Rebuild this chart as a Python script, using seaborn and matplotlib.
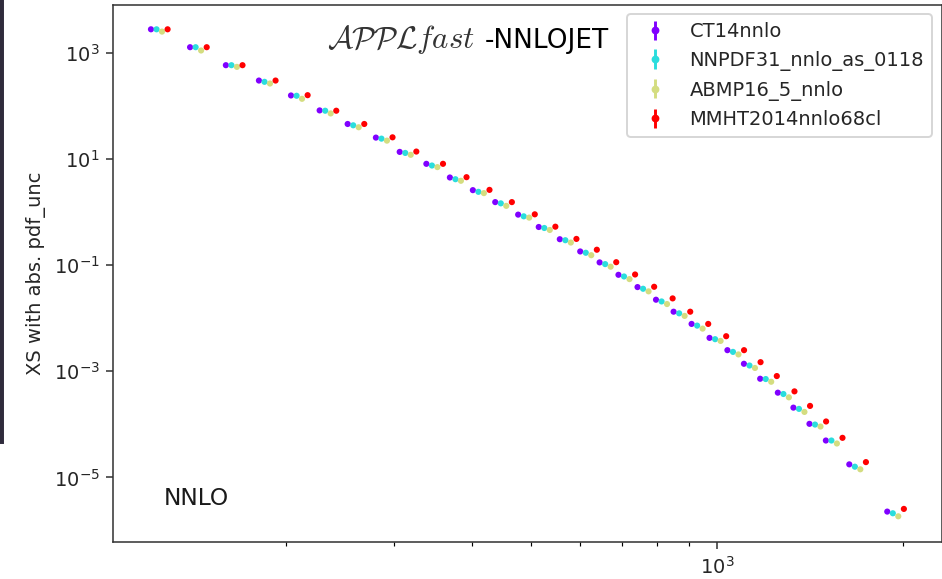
#Import needed packages
import numpy as np
import pandas as pd
import seaborn as sns
import matplotlib.pyplot as plt
from matplotlib.lines import Line2D
from matplotlib.patches import Rectangle
from matplotlib.ticker import FixedLocator, NullLocator

#Data (jet pT bins and cross sections per PDF set)
pdf_sets = ["CT14nnlo", "NNPDF31_nnlo_as_0118", "ABMP16_5_nnlo", "MMHT2014nnlo68cl"]
pt_bins = [121, 140, 160, 181, 204, 227, 252, 280, 306, 338, 369, 402, 437, 476, 514,
           556, 600, 645, 692, 743, 796, 850, 909, 972, 1039, 1105, 1174, 1254, 1329,
           1411, 1500, 1637, 1886]
x_shift = [1.0, 1.021, 1.042, 1.064]

xs_ct14 = [2750, 1265, 580, 298, 156, 81.6, 45.3, 25.1, 13.5, 8.05, 4.45, 2.57, 1.53,
           0.889, 0.520, 0.306, 0.180, 0.112, 0.0654, 0.0384, 0.0222, 0.0132, 0.00777,
           0.00424, 0.00249, 0.00138, 0.000721, 0.000394, 0.000206, 0.000102, 4.95e-5,
           1.76e-5, 2.27e-6]
xs_nnpdf = [2750, 1265, 580, 282, 154, 80.5, 42.8, 24.0, 12.9, 7.48, 4.13, 2.39, 1.45,
            0.826, 0.498, 0.293, 0.170, 0.104, 0.0608, 0.0357, 0.0206, 0.0123, 0.00722,
            0.00401, 0.00231, 0.00128, 0.000712, 0.000372, 0.000195, 9.89e-5, 4.95e-5,
            1.59e-5, 2.11e-6]
xs_abmp = [2489, 1097, 539, 262, 135, 71.6, 39.3, 22.0, 11.9, 6.98, 3.86, 2.26, 1.30,
           0.781, 0.457, 0.265, 0.153, 0.0930, 0.0543, 0.0319, 0.0184, 0.0110, 0.00634,
           0.00372, 0.00207, 0.00115, 0.000633, 0.000322, 0.000171, 9.08e-5, 4.35e-5,
           1.42e-5, 1.85e-6]
xs_mmht = [2750, 1265, 580, 298, 158, 80.5, 45.3, 25.4, 13.7, 8.05, 4.51, 2.60, 1.53,
           0.901, 0.527, 0.310, 0.194, 0.113, 0.0663, 0.0389, 0.0235, 0.0132, 0.00777,
           0.00456, 0.00249, 0.00148, 0.000810, 0.000417, 0.000222, 0.000113, 5.56e-5,
           1.94e-5, 2.55e-6]
rel_unc = [0.01, 0.01, 0.01, 0.01, 0.01, 0.01, 0.012, 0.012, 0.012, 0.013, 0.013, 0.014,
           0.015, 0.015, 0.016, 0.017, 0.018, 0.019, 0.02, 0.021, 0.022, 0.024, 0.026,
           0.028, 0.03, 0.032, 0.035, 0.038, 0.041, 0.045, 0.05, 0.055, 0.065]
yticks = [1e-5, 1e-3, 1e-1, 1e1, 1e3]

#Long table for seaborn
xs_values = [xs_ct14, xs_nnpdf, xs_abmp, xs_mmht]
rows = []
for name, vals, shift in zip(pdf_sets, xs_values, x_shift):
    for pt, xs, unc in zip(pt_bins, vals, rel_unc):
        rows.append({"pdf": name, "pt": pt * shift, "xs": xs, "err": xs * unc})
df = pd.DataFrame(rows)

colors = [tuple(c) for c in plt.cm.rainbow(np.linspace(0, 1, len(pdf_sets)))]

fig = plt.figure(figsize=(942 / 140, 579 / 140), dpi=140)
ax = fig.add_subplot(111)
fig.subplots_adjust(left=0.1203, right=0.9995, top=0.992, bottom=0.0634)

sns.scatterplot(data=df, x="pt", y="xs", hue="pdf", palette=colors, s=10,
                linewidth=0, legend=False, ax=ax, zorder=3)

#Error bars + legend handles
handles = []
for name, c in zip(pdf_sets, colors):
    sub = df[df["pdf"] == name]
    eb = ax.errorbar(sub["pt"], sub["xs"], yerr=sub["err"], fmt="none", ecolor=c,
                     elinewidth=1.5)
    dot = Line2D([], [], ls="", marker=".", ms=6, color=c)
    handles.append((eb, dot))

ax.set_xscale("log")
ax.set_yscale("log")
ax.yaxis.set_major_locator(FixedLocator(yticks))
ax.yaxis.set_minor_locator(NullLocator())
ax.set_xlabel("")
ax.set_ylabel("XS with abs. pdf_unc", color="0.15")
ax.tick_params(labelcolor="0.15", color="0.2")
for sp in ax.spines.values():
    sp.set_color("0.2")

leg = ax.legend(handles, pdf_sets, loc="upper right")
for t in leg.get_texts():
    t.set_color("0.15")

#Logo and order label
ax.text(0.258, 0.920, r"$\mathcal{APPL}\mathit{fast}$", transform=ax.transAxes,
        fontsize=16, math_fontfamily="cm", color="0.2")
ax.text(0.449, 0.920, "-NNLOJET", transform=ax.transAxes, fontsize=13.5)
ax.text(0.061, 0.069, "NNLO", transform=ax.transAxes, fontsize=12, color="0.1")

#Edge of the neighbouring window in the screenshot
fig.patches.append(Rectangle((0, 1 - 443 / 579), 3 / 942, 443 / 579,
                             transform=fig.transFigure, color="#2f2b3c", zorder=0))

plt.savefig("out.png", dpi=140)
